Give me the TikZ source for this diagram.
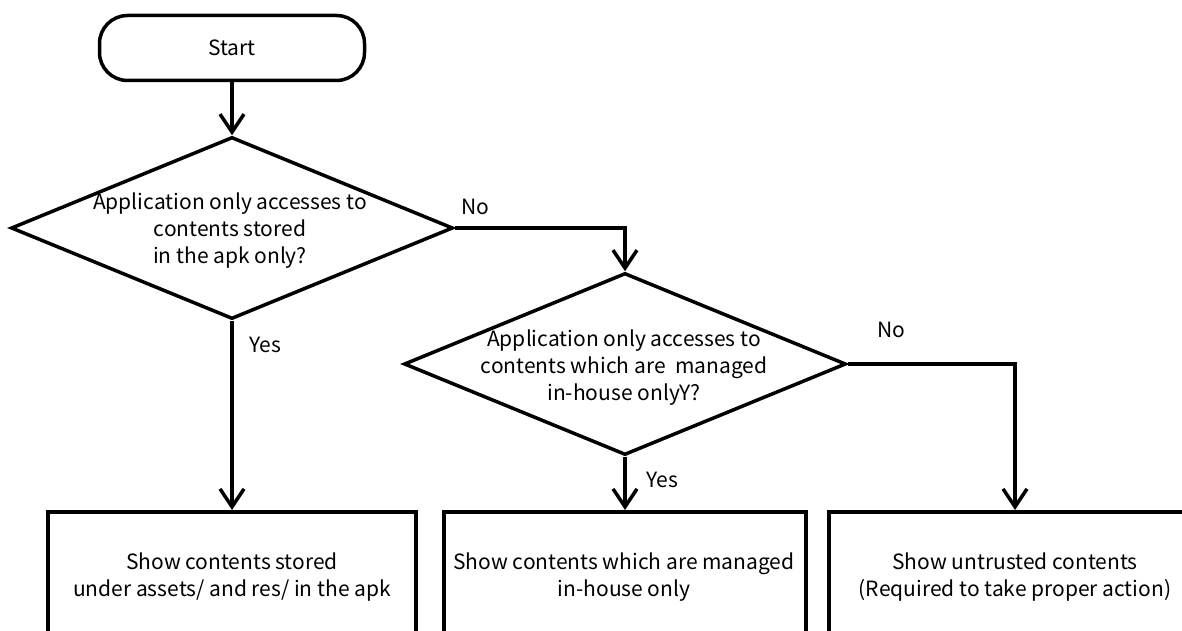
\documentclass[tikz,border=0pt]{standalone}
\usepackage{fontspec}
\setmainfont{Noto Sans CJK JP}
\usetikzlibrary{arrows.meta,positioning,shapes.geometric}

\begin{document}
\begin{tikzpicture}[x=1pt, y=-1pt,
          every node/.style={font=\fontsize{21}{27}\selectfont},
          term/.style={draw, line width=3.5pt, rounded corners=28pt,
                       minimum width=265pt, minimum height=65pt},
          decision/.style={draw, diamond, line width=3.5pt, inner sep=0pt,
                           minimum width=442pt, minimum height=182pt},
          txt/.style={align=center, inner sep=0pt},
          result/.style={draw, line width=3.5pt, anchor=north, minimum height=270pt},
          arr/.style={-{Straight Barb[length=18pt, width=24pt]}, line width=3.5pt},
          lbl/.style={inner sep=0pt}
        ]
          \useasboundingbox (0,0) rectangle (1182,631);
          \clip (0,0) rectangle (1182,631);
          \node[term] (start) at (232,48) {Start};
          \node[decision] (q1) at (232,228) {};
          \node[txt] (q1txt) at (230,231) {Application only accesses to\\contents stored\\in the apk only?};
          \node[decision] (q2) at (625,364) {};
          \node[txt] (q2txt) at (624,368) {Application only accesses to\\contents which are\ \ managed\\in-house onlyY?};
          \node[result, minimum width=368pt] (res1) at (232,510) {};
          \node[result, minimum width=362pt] (res2) at (625,510) {};
          \node[result, minimum width=372pt] (res3) at (1015,510) {};
          \node[txt] (res1txt) at (232,577) {Show contents stored\\under assets/ and res/ in the apk};
          \node[txt] (res2txt) at (624,577) {Show contents which are managed\\in-house only};
          \node[txt] (res3txt) at (1015,577) {Show untrusted contents\\(Required to take proper action)};
          \node[lbl] (no1) at (475,207) {No};
          \node[lbl] (yes1) at (265,345) {Yes};
          \node[lbl] (no2) at (891,330) {No};
          \node[lbl] (yes2) at (662,480) {Yes};
          \draw[arr] (start) -- (q1);
          \draw[arr] (q1.east) -| (q2.north);
          \draw[arr] (q1.south) -- (res1.north);
          \draw[arr] (q2.south) -- (res2.north);
          \draw[arr] (q2.east) -| (res3.north);
        \end{tikzpicture}
\end{document}
